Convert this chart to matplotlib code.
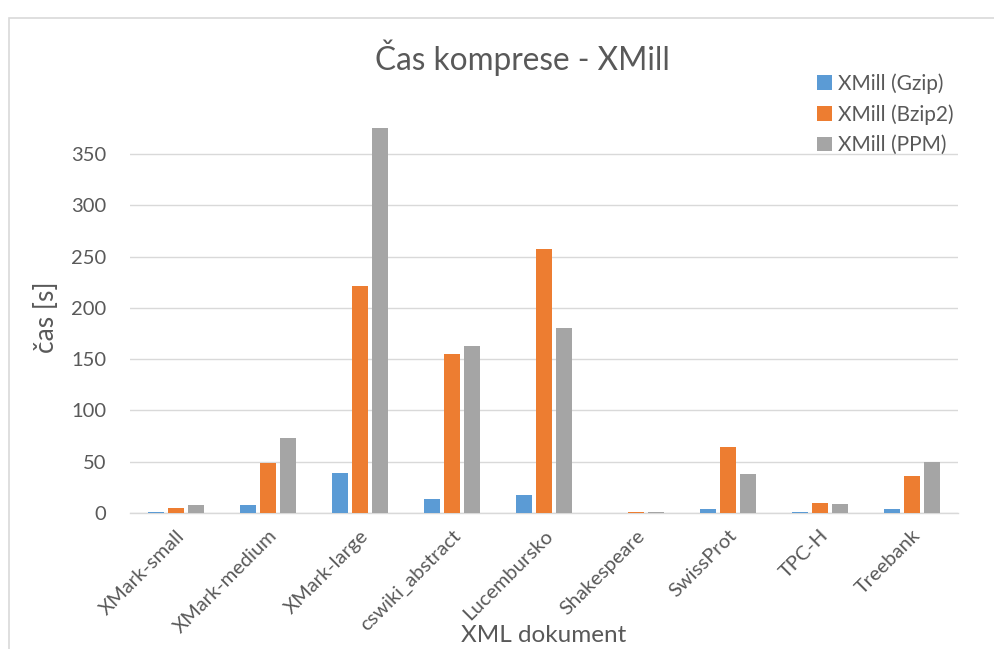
import matplotlib
matplotlib.use("Agg")
import matplotlib.pyplot as plt
import numpy as np
from matplotlib.patches import Rectangle

categories = ["XMark-small", "XMark-medium", "XMark-large", "cswiki_abstract",
              "Lucembursko", "Shakespeare", "SwissProt", "TPC-H", "Treebank"]
series_names = ["XMill (Gzip)", "XMill (Bzip2)", "XMill (PPM)"]
gzip = [0.6, 8, 39, 13.5, 18, 0.2, 3.5, 1.0, 4.3]
bzip2 = [4.5, 49, 221, 155, 257, 1.0, 64.6, 10.2, 36.5]
ppm = [7.5, 73, 375, 163, 180, 1.2, 38.5, 8.5, 50]
yticks = [0, 50, 100, 150, 200, 250, 300, 350]

colors = ["#5B9BD5", "#ED7D31", "#A5A5A5"]
text_gray = "#595959"

plt.rcParams["font.family"] = ["Lato", "DejaVu Sans"]

fig = plt.figure(figsize=(9.95, 6.49), dpi=100)
fig.patches.append(Rectangle((9 / 995, -0.05), 1.2, 1 - 18 / 649 + 0.05,
                             transform=fig.transFigure, fill=False,
                             edgecolor="#D9D9D9", linewidth=1.2))

ax = fig.add_axes([130 / 995, 1 - 513 / 649, 828 / 995, 395 / 649])
x = np.arange(len(categories))
step = 0.217
bw = 0.176
for i, (vals, name) in enumerate(zip([gzip, bzip2, ppm], series_names)):
    ax.bar(x + (i - 1) * step, vals, width=bw, color=colors[i], label=name,
           linewidth=0, zorder=3)

ax.set_xlim(-0.5, len(categories) - 0.5)
ax.set_ylim(0, 385)
ax.set_yticks(yticks)
ax.set_yticklabels([str(t) for t in yticks], fontsize=14.5, color=text_gray)
ax.yaxis.grid(True, color="#D9D9D9", linewidth=1, zorder=0)
ax.tick_params(axis="y", length=0, pad=17)
ax.set_xticks(x)
ax.set_xticklabels(categories, rotation=45, ha="right", rotation_mode="anchor",
                   fontsize=14.5, color=text_gray)
ax.tick_params(axis="x", length=0, pad=10)
for s in ["top", "right", "left"]:
    ax.spines[s].set_visible(False)
ax.spines["bottom"].set_color("#D9D9D9")
ax.spines["bottom"].set_linewidth(1)

fig.text(47 / 995, 1 - 317 / 649, "čas [s]", fontsize=19, color=text_gray,
         ha="center", va="center", rotation=90)
fig.text(544 / 995, 1 - 636 / 649, "XML dokument", fontsize=17.5, color=text_gray,
         ha="center", va="center")
fig.text(522 / 995, 1 - 58 / 649, "Čas komprese - XMill", fontsize=22.7,
         color=text_gray, ha="center", va="center")

leg = fig.legend(loc="upper left", bbox_to_anchor=(809 / 995, 1 - 65 / 649),
                 frameon=False, fontsize=15, handlelength=0.7, handleheight=0.7,
                 handletextpad=0.3, labelspacing=0.5, borderaxespad=0)
for t in leg.get_texts():
    t.set_color(text_gray)

fig.savefig("out.png", dpi=100)
